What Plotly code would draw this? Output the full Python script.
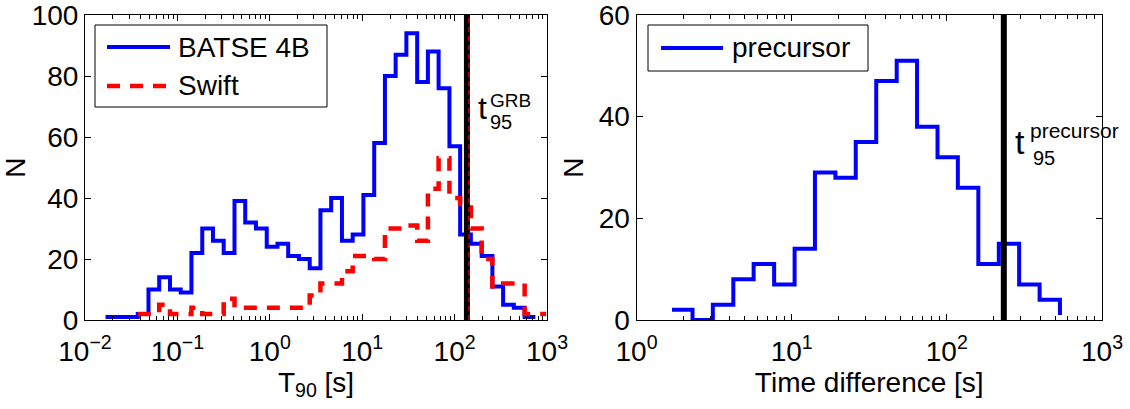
import plotly.graph_objects as go

# ---------------- data ----------------
# left panel: log10(T90 [s]) bin edges
t90_log_edges = [-1.778, -1.662, -1.545, -1.429, -1.313, -1.197, -1.080, -0.964, -0.848, -0.731,
                 -0.615, -0.499, -0.382, -0.266, -0.150, -0.033, 0.083, 0.199, 0.315, 0.432,
                 0.548, 0.664, 0.781, 0.897, 1.013, 1.130, 1.246, 1.362, 1.478, 1.595,
                 1.711, 1.827, 1.944, 2.060, 2.176, 2.293, 2.409, 2.525, 2.641, 2.758,
                 2.874, 2.990]
batse_counts = [1, 1, 1, 2, 10, 14, 10, 9, 22, 30,
                26, 22, 39, 32, 30, 24, 25, 21, 20, 17,
                36, 40, 26, 28, 41, 58, 80, 87, 94, 78,
                88, 76, 57, 28, 25, 21, 11, 5, 4, 1]
batse_end = 1
swift_counts = [2, 2, 5, 2, 2, 4, 2, 2, 7, 4,
                4, 4, 4, 4, 4, 4, 8, 12, 12, 16,
                21, 21, 20, 30, 30, 31, 26, 43, 53, 40,
                38, 30, 20, 11, 12, 12, 2, 2]
swift_end = 2
t95_grb = 136.0
t95_swift = 143.0

# right panel: log10(time difference [s]) bin edges
td_log_edges = [0.229, 0.361, 0.492, 0.624, 0.755, 0.887, 1.019, 1.150, 1.282, 1.413,
                1.545, 1.677, 1.808, 1.940, 2.071, 2.203, 2.335, 2.466, 2.598, 2.729]
precursor_counts = [2, 0, 3, 8, 11, 7, 14, 29, 28, 35, 47, 51, 38, 32, 26, 11, 15, 7, 4]
precursor_end = 1
t95_precursor = 233.0

x_left_ticks = [-2, -1, 0, 1, 2, 3]
x_right_ticks = [0, 1, 2, 3]
y_left_ticks = [0, 20, 40, 60, 80, 100]
y_right_ticks = [0, 20, 40, 60]

legend_left_names = ["BATSE 4B", "Swift"]
legend_right_names = ["precursor"]

# ---------------- figure ----------------
W, H = 1130, 409
FONT = "Liberation Sans, Arial, Helvetica, sans-serif"
BLUE = "#0000ff"
RED = "#ff0000"


def px_x(p):
    return p / W


def px_y(p):
    return 1 - p / H


def pow_label(k):
    s = str(k) if k >= 0 else "\u2212" + str(-k)
    return "10<sup>" + s + "</sup>"


fig = go.Figure()

n_b = len(batse_counts)
fig.add_trace(go.Scatter(
    x=[10 ** e for e in t90_log_edges[:n_b + 1]],
    y=batse_counts + [batse_end],
    mode="lines", line=dict(color=BLUE, width=4, shape="hv"),
    name=legend_left_names[0], xaxis="x", yaxis="y", showlegend=False))

off = len(t90_log_edges) - 1 - len(swift_counts)
fig.add_trace(go.Scatter(
    x=[10 ** e for e in t90_log_edges[off:]],
    y=swift_counts + [swift_end],
    mode="lines", line=dict(color=RED, width=4.5, shape="hv", dash="13px,10px"),
    name=legend_left_names[1], xaxis="x", yaxis="y", showlegend=False))

fig.add_trace(go.Scatter(
    x=[t95_grb, t95_grb], y=[0, 100], mode="lines",
    line=dict(color="black", width=6), showlegend=False, xaxis="x", yaxis="y"))
fig.add_trace(go.Scatter(
    x=[t95_swift, t95_swift], y=[0, 100], mode="lines",
    line=dict(color=RED, width=1.2, dash="5px,4px"), showlegend=False, xaxis="x", yaxis="y"))

fig.add_trace(go.Scatter(
    x=[10 ** e for e in td_log_edges],
    y=precursor_counts + [precursor_end],
    mode="lines", line=dict(color=BLUE, width=4, shape="hv"),
    name=legend_right_names[0], xaxis="x2", yaxis="y2", showlegend=False))

fig.add_trace(go.Scatter(
    x=[t95_precursor, t95_precursor], y=[0, 60], mode="lines",
    line=dict(color="black", width=6), showlegend=False, xaxis="x2", yaxis="y2"))

axis_common = dict(
    showline=True, linecolor="black", linewidth=1, mirror="ticks",
    ticks="inside", ticklen=6, tickwidth=1, tickcolor="black",
    showgrid=False, zeroline=False, automargin=False,
    ticklabeloverflow="allow",
    tickfont=dict(family=FONT, size=28, color="black"),
    title_font=dict(family=FONT, size=28, color="black"),
)
minor_log = dict(ticks="inside", ticklen=4, tickwidth=1, tickcolor="black",
                 dtick="D1", showgrid=False)

ydom = [px_y(320), px_y(15)]

fig.update_layout(
    width=W, height=H, margin=dict(l=0, r=0, t=0, b=0, autoexpand=False),
    paper_bgcolor="white", plot_bgcolor="white",
    font=dict(family=FONT, size=28, color="black"),
    showlegend=False,
    xaxis=dict(type="log", domain=[px_x(85), px_x(547)], range=[-2, 3],
               tickmode="array", tickvals=[10 ** k for k in x_left_ticks],
               ticktext=[pow_label(k) for k in x_left_ticks],
               minor=minor_log, anchor="y", ticklabelstandoff=6,
               title=dict(text="T<sub>90</sub> [s]", standoff=3),
               **axis_common),
    yaxis=dict(domain=ydom, range=[0, 100], tickmode="array", tickvals=y_left_ticks,
               anchor="x", title=dict(text="N", standoff=6), **axis_common),
    xaxis2=dict(type="log", domain=[px_x(636.5), px_x(1102)], range=[0, 3],
                tickmode="array", tickvals=[10 ** k for k in x_right_ticks],
                ticktext=[pow_label(k) for k in x_right_ticks],
                minor=minor_log, anchor="y2", ticklabelstandoff=6,
                title=dict(text="Time difference [s]", standoff=3),
                **axis_common),
    yaxis2=dict(domain=ydom, range=[0, 60], tickmode="array", tickvals=y_right_ticks,
                anchor="x2", title=dict(text="N", standoff=6), **axis_common),
)

# ---- legends (drawn as boxes, sample lines and labels) ----
shapes = []
shapes.append(dict(type="rect", xref="paper", yref="paper",
                   x0=px_x(95), x1=px_x(327), y0=px_y(107), y1=px_y(25),
                   line=dict(color="black", width=1), fillcolor="white", layer="above"))
shapes.append(dict(type="line", xref="paper", yref="paper",
                   x0=px_x(107), x1=px_x(170), y0=px_y(47), y1=px_y(47),
                   line=dict(color=BLUE, width=4), layer="above"))
shapes.append(dict(type="line", xref="paper", yref="paper",
                   x0=px_x(107), x1=px_x(170), y0=px_y(86), y1=px_y(86),
                   line=dict(color=RED, width=4.5, dash="13px,10px"), layer="above"))
shapes.append(dict(type="rect", xref="paper", yref="paper",
                   x0=px_x(648), x1=px_x(868), y0=px_y(71), y1=px_y(25),
                   line=dict(color="black", width=1), fillcolor="white", layer="above"))
shapes.append(dict(type="line", xref="paper", yref="paper",
                   x0=px_x(661), x1=px_x(723), y0=px_y(48), y1=px_y(48),
                   line=dict(color=BLUE, width=4), layer="above"))
fig.update_layout(shapes=shapes)

ann = [
    (legend_left_names[0], 177, 47, 28),
    (legend_left_names[1], 177, 86, 28),
    (legend_right_names[0], 731, 47, 28),
    ("t", 477, 108, 32),
    ("GRB", 489, 100, 19),
    ("95", 489, 122, 20),
    ("t", 1014, 142, 34),
    ("precursor", 1029, 130, 21),
    ("95", 1032, 158, 20),
]
for txt, xp, yp, fs in ann:
    fig.add_annotation(x=px_x(xp), y=px_y(yp), xref="paper", yref="paper",
                       text=txt, showarrow=False, xanchor="left", yanchor="middle",
                       font=dict(family=FONT, size=fs, color="black"),
                       borderpad=0)

fig.write_html("out.html")
